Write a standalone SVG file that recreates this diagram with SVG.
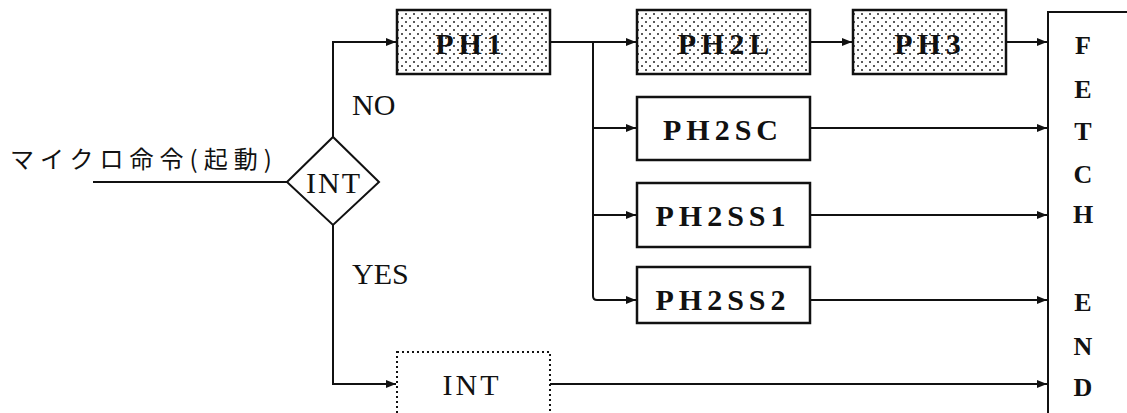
<svg xmlns="http://www.w3.org/2000/svg" width="1127" height="413" viewBox="0 0 1127 413">
<style>
.box{fill:#fff;stroke:#111;stroke-width:2.5}
.dot{fill:url(#stip);stroke:#111;stroke-width:2.5}
.dash{fill:#fff;stroke:#111;stroke-width:2;stroke-dasharray:2 3}
.ln{fill:none;stroke:#111;stroke-width:2;marker-end:url(#ah)}
.pl{fill:none;stroke:#111;stroke-width:2}
.t{font-family:"Liberation Serif",serif;font-size:30px;fill:#111;text-anchor:middle;dominant-baseline:central;letter-spacing:3px}
.tb{font-family:"Liberation Serif",serif;font-weight:bold;font-size:30px;fill:#111;text-anchor:middle;dominant-baseline:central;letter-spacing:5px}
.lab{font-family:"Liberation Serif",serif;font-size:30px;fill:#111}
.fe{font-family:"Liberation Serif",serif;font-weight:bold;font-size:26px;fill:#111;text-anchor:middle;dominant-baseline:central}
.jp{font-family:"Noto Sans CJK JP",sans-serif;font-size:24px;fill:#111;letter-spacing:6px}
</style>
<defs>
<pattern id="stip" width="8" height="8" patternUnits="userSpaceOnUse">
<rect width="8" height="8" fill="#fff"/>
<circle cx="2" cy="2" r="1" fill="#222"/>
<circle cx="6" cy="6" r="1" fill="#222"/>
</pattern>
<marker id="ah" markerWidth="10" markerHeight="10" refX="10" refY="5" orient="auto" markerUnits="userSpaceOnUse">
<path d="M0,1 L10,5 L0,9 Z" fill="#111"/>
</marker>
</defs>
<g id="connectors">
<path class="pl" d="M93 182 H287"/>
<path class="ln" d="M333 137 V42 H396"/>
<path class="ln" d="M333 225 V384 H396"/>
<path class="ln" d="M550 42 H636"/>
<path class="pl" d="M593 42 V296 Q593 300 597 300"/>
<path class="ln" d="M593 128 H636"/>
<path class="ln" d="M593 215 H636"/>
<path class="ln" d="M597 300 H636"/>
<path class="ln" d="M810 42 H852"/>
<path class="ln" d="M1006 42 H1047"/>
<path class="ln" d="M810 128 H1047"/>
<path class="ln" d="M810 215 H1047"/>
<path class="ln" d="M810 300 H1047"/>
<path class="ln" d="M550 384 H1047"/>
</g>
<g id="start"><text class="jp" x="10" y="168">マイクロ命令(起動)</text></g>
<g id="decision">
<path d="M287 182 L333 137 L379 182 L333 225 Z" fill="#fff" stroke="#111" stroke-width="2"/>
<text class="t" x="334" y="182" style="letter-spacing:2px">INT</text>
</g>
<g id="labels">
<text class="lab" x="352" y="115">NO</text>
<text class="lab" x="352" y="284">YES</text>
</g>
<g id="ph1"><rect class="dot" x="397" y="10" width="153" height="64"/><text class="tb" x="471" y="43">PH1</text></g>
<g id="ph2l"><rect class="dot" x="637" y="10" width="173" height="64"/><text class="tb" x="726" y="43">PH2L</text></g>
<g id="ph3"><rect class="dot" x="853" y="10" width="153" height="64"/><text class="tb" x="930" y="43">PH3</text></g>
<g id="ph2sc"><rect class="box" x="637" y="97" width="173" height="63"/><text class="tb" x="723" y="129">PH2SC</text></g>
<g id="ph2ss1"><rect class="box" x="637" y="183" width="173" height="64"/><text class="tb" x="723" y="215">PH2SS1</text></g>
<g id="ph2ss2"><rect class="box" x="637" y="267" width="173" height="56"/><text class="tb" x="723" y="299">PH2SS2</text></g>
<g id="int"><rect class="dash" x="397" y="352" width="153" height="80"/><text class="t" x="472" y="384">INT</text></g>
<g id="fetchend">
<path class="pl" d="M1048 413 V12 H1127"/>
<text class="fe" x="1083" y="45">F</text>
<text class="fe" x="1083" y="89">E</text>
<text class="fe" x="1083" y="131">T</text>
<text class="fe" x="1083" y="174">C</text>
<text class="fe" x="1083" y="214">H</text>
<text class="fe" x="1083" y="302">E</text>
<text class="fe" x="1083" y="346">N</text>
<text class="fe" x="1083" y="387">D</text>
</g>
</svg>
